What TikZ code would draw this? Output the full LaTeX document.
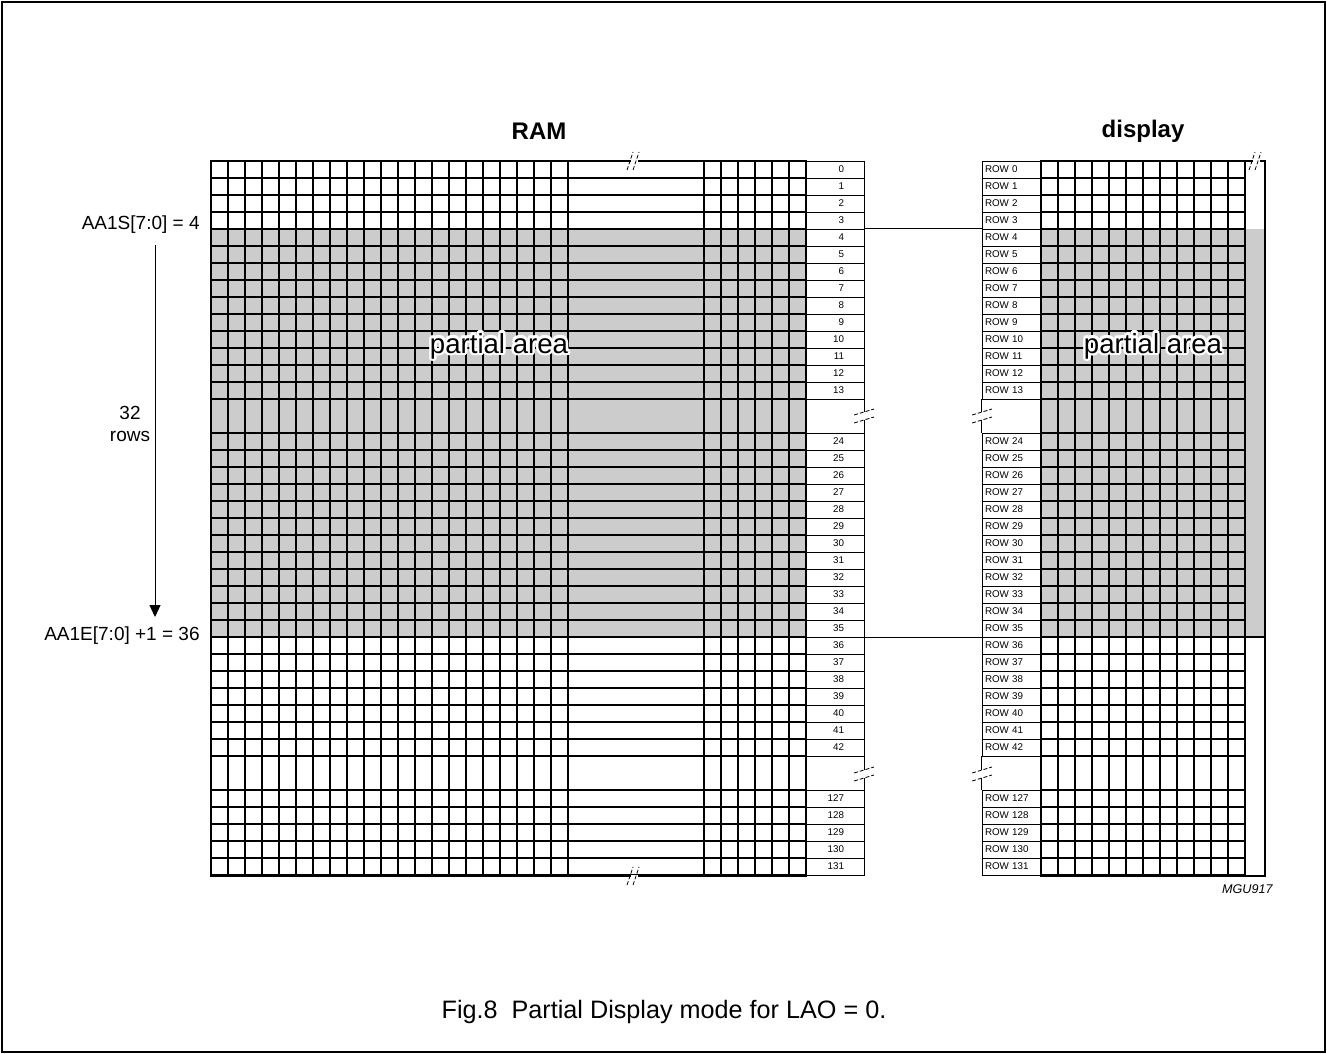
\documentclass[tikz,border=0pt]{standalone}
\usepackage{fontspec}
\setmainfont{Liberation Sans}
\usepackage{contour}
\contourlength{1.2pt}
\contournumber{12}
\usetikzlibrary{arrows.meta}
\definecolor{areaGray}{gray}{0.8}

% break mark across a horizontal border
\newcommand{\hbrk}[2]{%
  \fill[white] (#1-4,#2-1.5) rectangle (#1+3,#2+1.5);
  \draw[brkLine] (#1-8,#2+9) -- (#1-2,#2-9);
  \draw[brkLine] (#1-2,#2+9) -- (#1+4,#2-9);
}
% break mark across a vertical border
\newcommand{\vbrk}[2]{%
  \fill[white] (#1-1.5,#2-3) rectangle (#1+1.5,#2+5);
  \draw[brkLine] (#1-10,#2) -- (#1+10,#2-6);
  \draw[brkLine] (#1-10,#2+8) -- (#1+10,#2+2);
}

\begin{document}
\begin{tikzpicture}[x=0.5pt, y=-0.5pt,
    idxStyle/.style={rectangle, draw, line width=0.4pt, inner sep=0pt, inner xsep=10pt, minimum width=29pt, minimum height=8.5pt, text width=9pt, align=right, font=\fontsize{4.9}{5}\selectfont},
    rowStyle/.style={idxStyle, inner xsep=1.5pt, minimum width=29.5pt, text width=26.5pt, align=left},
    gridLine/.style={line width=0.65pt},
    frameLine/.style={line width=1pt},
    brkLine/.style={line width=0.4pt, dash pattern=on 2pt off 1pt},
    labelStyle/.style={font=\fontsize{9.5}{11}\selectfont},
    titleStyle/.style={font=\fontsize{12}{14}\selectfont\bfseries}]
  \useasboundingbox (0,0) rectangle (1327,1054);
  \draw[line width=0.75pt] (2,2) rectangle (1325,1052);

  % shaded rows 4..35
  \fill[areaGray] (211,229) rectangle (806,637);
  \fill[areaGray] (1041,229) rectangle (1265,637);

  % RAM grid
  \foreach \u in {0,...,14} \draw[gridLine] (211,161+17*\u) -- (806,161+17*\u);
  \foreach \u in {16,...,35} \draw[gridLine] (211,161+17*\u) -- (806,161+17*\u);
  \foreach \u in {37,...,42} \draw[gridLine] (211,161+17*\u) -- (806,161+17*\u);
  \foreach \k in {0,...,21} \draw[gridLine] (211+17*\k,161) -- (211+17*\k,876);
  \foreach \k in {29,...,35} \draw[gridLine] (211+17*\k,161) -- (211+17*\k,876);

  % display grid
  \foreach \u in {0,...,14} \draw[gridLine] (1041,161+17*\u) -- (1245,161+17*\u);
  \foreach \u in {16,...,35} \draw[gridLine] (1041,161+17*\u) -- (1245,161+17*\u);
  \foreach \u in {37,...,42} \draw[gridLine] (1041,161+17*\u) -- (1245,161+17*\u);
  \foreach \k in {0,...,12} \draw[gridLine] (1041+17*\k,161) -- (1041+17*\k,876);
  \draw[gridLine] (1245,637) -- (1265,637);

  % row numbers and display rows
  \foreach \r in {0,...,13} {
    \node[idxStyle] (i\r) at (835,{169.5+17*\r}) {\r};
    \node[rowStyle] (r\r) at (1011.5,{169.5+17*\r}) {ROW \r};
  }
  \foreach \r in {24,...,42} {
    \node[idxStyle] (i\r) at (835,{169.5+17*(\r-8)}) {\r};
    \node[rowStyle] (r\r) at (1011.5,{169.5+17*(\r-8)}) {ROW \r};
  }
  \foreach \r in {127,...,131} {
    \node[idxStyle] (i\r) at (835,{169.5+17*(\r-90)}) {\r};
    \node[rowStyle] (r\r) at (1011.5,{169.5+17*(\r-90)}) {ROW \r};
  }
  \draw[line width=0.4pt] (i13.south east) -- (i24.north east);
  \draw[line width=0.4pt] (i42.south east) -- (i127.north east);
  \draw[line width=0.4pt] (r13.south west) -- (r24.north west);
  \draw[line width=0.4pt] (r42.south west) -- (r127.north west);

  % borders
  \draw[frameLine] (211,161) rectangle (806,876);
  \draw[frameLine] (1041,161) rectangle (1265,876);

  % breaks
  \hbrk{635}{161}
  \hbrk{635}{876}
  \hbrk{1257}{161}
  \vbrk{864}{415}
  \vbrk{864}{773}
  \vbrk{982}{415}
  \vbrk{982}{773}

  % mapping lines
  \draw[line width=0.5pt] (i4.north east) -- (r4.north west);
  \draw[line width=0.5pt] (i35.south east) -- (r35.south west);

  % titles
  \node[titleStyle] (ramTitle) at (539,131) {RAM};
  \node[titleStyle] (dispTitle) at (1143,131) {display};

  \node[font=\fontsize{13.8}{15}\selectfont, anchor=base] (ramArea) at (499,353) {\contour{white}{partial area}};
  \node[font=\fontsize{13.8}{15}\selectfont, anchor=base] (dispArea) at (1153,353) {\contour{white}{partial area}};

  % start/end addresses
  \node[labelStyle, anchor=base east, inner sep=0pt] (startLbl) at (200,229) {AA1S[7:0] = 4};
  \node[labelStyle, anchor=base east, inner sep=0pt] (endLbl) at (200,640) {AA1E[7:0] +1 = 36};
  \coordinate (arrTop) at (155,245);
  \coordinate (arrEnd) at (155,617);
  \draw[line width=0.5pt, -{Triangle[length=6pt,width=5.5pt]}] (arrTop) -- (arrEnd);
  \node[labelStyle, align=center, fill=white, inner sep=1pt] (rowsLbl) at (130,424) {32\\rows};

  \node[font=\fontsize{6.3}{7}\selectfont\itshape, anchor=base east, inner sep=0pt] (figId) at (1273,893) {MGU917};
  \node[font=\fontsize{12.6}{14}\selectfont, anchor=base] (caption) at (664,1018) {Fig.8\ \ Partial Display mode for LAO = 0.};
\end{tikzpicture}
\end{document}
